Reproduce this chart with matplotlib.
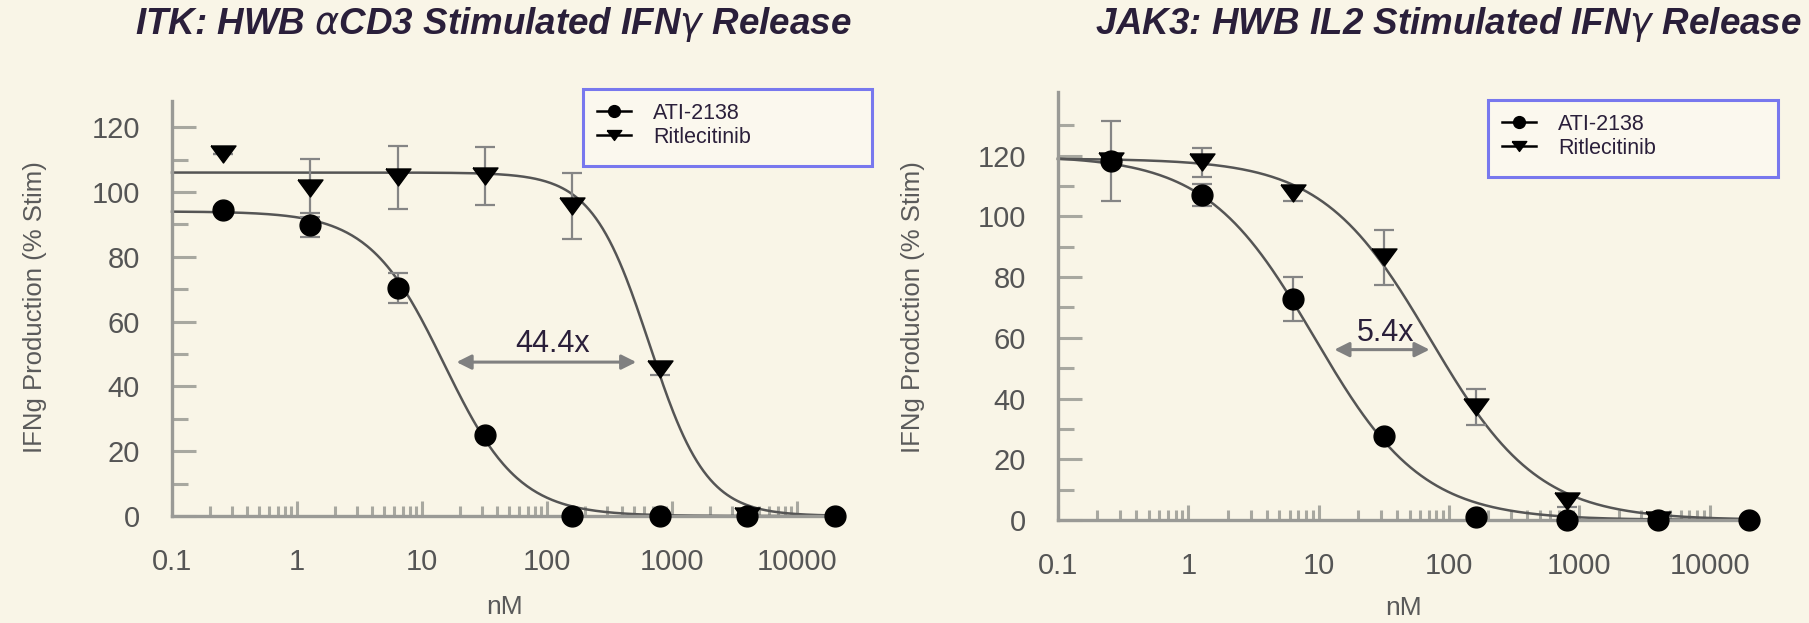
import numpy as np
import matplotlib
matplotlib.use('Agg')
import matplotlib.pyplot as plt
from matplotlib.lines import Line2D
from matplotlib.patches import Rectangle

# Concentrations (nM), 5-fold dilution series
conc = [0.256, 1.28, 6.4, 32, 160, 800, 4000, 20000]
conc_rit = [0.256, 1.28, 6.4, 32, 160, 800, 4000]

# ITK panel values (% Stim)
itk_ati = [94.4, 89.8, 70.4, 25.0, 0.0, 0.0, 0.0, 0.0]
itk_ati_err = [1.0, 3.7, 4.6, 1.0, 0.5, 0.5, 0.5, 0.5]
itk_rit = [111.6, 101.2, 104.6, 104.9, 95.8, 45.5, 0.0]
itk_rit_err = [0.0, 9.0, 9.7, 8.9, 10.2, 2.0, 0.5]

# JAK3 panel values (% Stim)
jak_ati = [118.2, 107.0, 72.8, 27.8, 1.0, 0.0, 0.0, 0.0]
jak_ati_err = [13.3, 3.5, 7.3, 1.0, 0.5, 0.5, 0.5, 0.5]
jak_rit = [118.2, 117.8, 107.6, 86.5, 37.2, 6.3, 0.0]
jak_rit_err = [1.0, 4.7, 2.5, 9.0, 5.9, 2.0, 0.5]

# Fitted 4PL curve parameters: top, ic50 (nM), hill slope
itk_ati_fit = [94.0, 15.0, 1.45]
itk_rit_fit = [106.0, 660.0, 1.9]
jak_ati_fit = [120.0, 9.3, 1.05]
jak_rit_fit = [119.0, 72.0, 1.05]

# fold-shift annotations: (x_start, x_end, y_arrow, label, x_text, y_text)
itk_fold = [18.9, 518.0, 47.5, '44.4x', 110.0, 53.0]
jak_fold = [13.2, 71.0, 56.1, '5.4x', 32.5, 61.7]

xtick_vals = [0.1, 1, 10, 100, 1000, 10000]
xtick_labels = ['0.1', '1', '10', '100', '1000', '10000']

BG = '#f9f5e7'
TITLE_COLOR = '#2a1f3a'
AXIS_GRAY = '#9a9a96'
TICK_GRAY = '#a8a8a0'
LABEL_GRAY = '#555555'
CURVE = '#555555'
ERR = '#858585'

TRI = [(-1, 0.68), (1, 0.68), (0, -0.68), (-1, 0.68)]
W, H = 1809, 623

plt.rcParams['font.family'] = ['Liberation Sans', 'DejaVu Sans']


def four_pl(x, params):
    top, ic50, hill = params
    return top / (1 + (x / ic50) ** hill)


def draw_panel(ax, ati, ati_err, rit, rit_err, ati_fit, rit_fit, fold, ymax, ystep):
    ax.set_facecolor('none')
    ax.set_xscale('log')
    ax.set_xlim(0.1, 23500)
    ax.set_ylim(0, ymax)

    # fitted curves
    xs = np.logspace(-1, np.log10(23500), 400)
    ax.plot(xs, four_pl(xs, ati_fit), color=CURVE, lw=1.8, zorder=2, clip_on=False)
    ax.plot(xs, four_pl(xs, rit_fit), color=CURVE, lw=1.8, zorder=2, clip_on=False)

    # error bars
    ax.errorbar(conc, ati, yerr=ati_err, fmt='none', ecolor=ERR, elinewidth=1.6,
                capsize=7, capthick=1.6, zorder=3, clip_on=False)
    ax.errorbar(conc_rit, rit, yerr=rit_err, fmt='none', ecolor=ERR, elinewidth=1.6,
                capsize=7, capthick=1.6, zorder=3, clip_on=False)

    # markers
    ax.plot(conc_rit, rit, linestyle='none', marker=TRI, markersize=18,
            color='black', zorder=4, clip_on=False)
    ax.plot(conc, ati, linestyle='none', marker='o', markersize=15,
            color='black', zorder=5, clip_on=False)

    # fold shift arrow
    x0, x1, ya, label, xt, yt = fold
    ax.annotate('', xy=(x0, ya), xytext=(x1, ya),
                arrowprops=dict(arrowstyle='<|-|>', color='#808080', lw=2.2,
                                mutation_scale=22, shrinkA=0, shrinkB=0))
    ax.text(xt, yt, label, ha='center', va='center', fontsize=22, color=TITLE_COLOR)

    # axes styling
    for side in ['top', 'right']:
        ax.spines[side].set_visible(False)
    for side in ['left', 'bottom']:
        ax.spines[side].set_color(AXIS_GRAY)
        ax.spines[side].set_linewidth(2.4)

    ax.set_xticks(xtick_vals)
    ax.set_xticklabels(xtick_labels)
    ax.set_yticks(np.arange(0, ymax - 5, ystep))
    ax.set_yticks(np.arange(ystep / 2, ymax - 5, ystep), minor=True)
    ax.tick_params(axis='both', which='both', direction='in', colors=TICK_GRAY,
                   labelcolor=LABEL_GRAY, labelsize=21, width=2.2)
    ax.tick_params(axis='y', which='major', length=17, pad=23)
    ax.tick_params(axis='y', which='minor', length=11.5)
    ax.tick_params(axis='x', which='major', length=11, pad=23)
    ax.tick_params(axis='x', which='minor', length=7, labelbottom=False)


def draw_legend(fig, ax, anchor, box):
    handles = [
        Line2D([], [], color='black', lw=1.8, marker='o', markersize=8.5),
        Line2D([], [], color='black', lw=1.8, marker=TRI, markersize=10.5),
    ]
    labels = ['ATI-2138', 'Ritlecitinib']
    ax.legend(handles, labels, loc='upper left', bbox_to_anchor=anchor,
              bbox_transform=fig.transFigure, frameon=False, fontsize=15.5,
              handlelength=1.6, handletextpad=1.0, labelspacing=0.12,
              borderpad=0, borderaxespad=0, labelcolor=TITLE_COLOR)
    x0, y0, x1, y1 = box
    fig.patches.append(Rectangle((x0 / W, 1 - y1 / H), (x1 - x0) / W, (y1 - y0) / H,
                                 transform=fig.transFigure, facecolor='#fbf8ee',
                                 edgecolor='#7878ee', lw=2.2, zorder=-1))


def main():
    fig = plt.figure(figsize=(W / 100, H / 100), dpi=100)
    fig.patch.set_facecolor(BG)

    ax1 = fig.add_axes([0.09508, 0.17175, 0.3711, 0.6657])
    ax2 = fig.add_axes([0.58485, 0.16533, 0.38696, 0.68732])

    draw_panel(ax1, itk_ati, itk_ati_err, itk_rit, itk_rit_err,
               itk_ati_fit, itk_rit_fit, itk_fold, 128, 20)
    draw_panel(ax2, jak_ati, jak_ati_err, jak_rit, jak_rit_err,
               jak_ati_fit, jak_rit_fit, jak_fold, 141, 20)

    draw_legend(fig, ax1, (597 / W, 1 - 103 / H), (583, 89, 872, 166))
    draw_legend(fig, ax2, (1502 / W, 1 - 114 / H), (1488, 100, 1778, 177))

    title_font = dict(fontsize=26.5, fontweight='bold', fontstyle='italic',
                      color=TITLE_COLOR, ha='center', va='center')
    fig.text(493 / W, 1 - 25 / H, r'ITK: HWB $\alpha$CD3 Stimulated IFN$\gamma$ Release', **title_font)
    fig.text(1448 / W, 1 - 25 / H, r'JAK3: HWB IL2 Stimulated IFN$\gamma$ Release', **title_font)

    ylab = dict(fontsize=18.5, color='#5a5a5a', rotation=90, ha='center', va='center')
    fig.text(35 / W, 1 - 307 / H, 'IFNg Production (% Stim)', **ylab)
    fig.text(913 / W, 1 - 307 / H, 'IFNg Production (% Stim)', **ylab)
    xlab = dict(fontsize=19, color='#5a5a5a', ha='center', va='baseline')
    fig.text(505 / W, 1 - 614 / H, 'nM', **xlab)
    fig.text(1404 / W, 1 - 615 / H, 'nM', **xlab)

    fig.savefig('out.png', dpi=100, facecolor=BG)


if __name__ == '__main__':
    main()
